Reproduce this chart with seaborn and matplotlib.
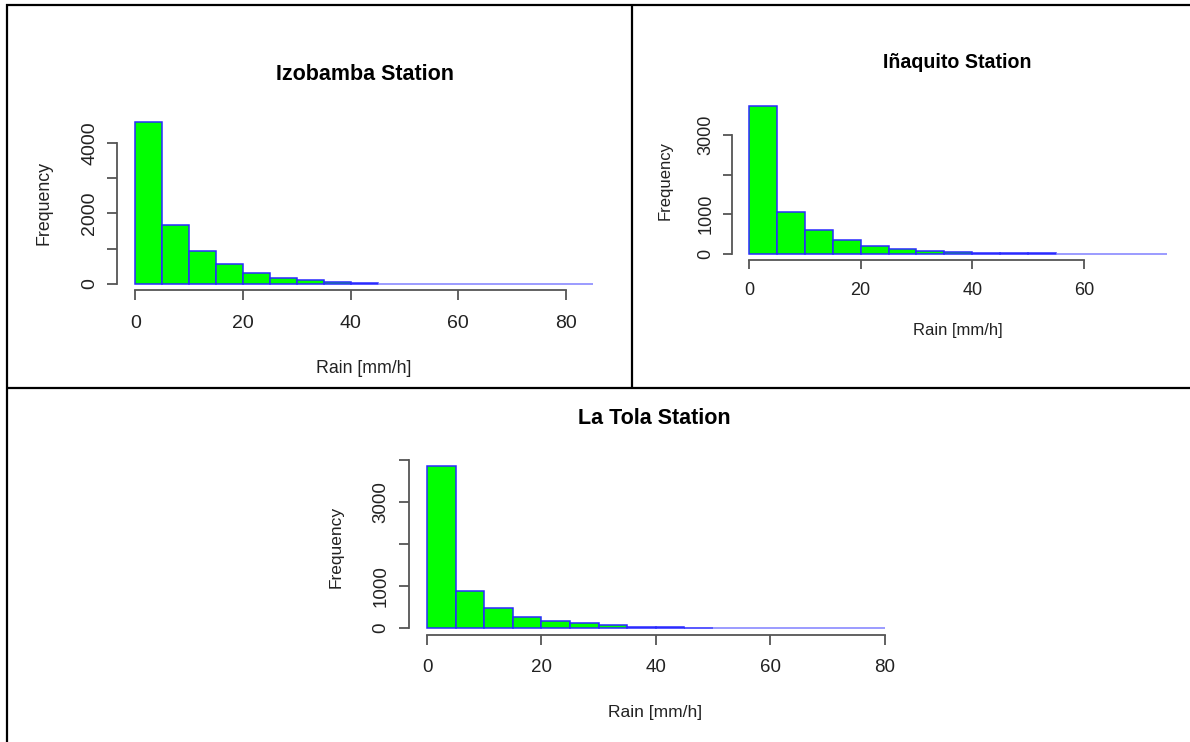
import numpy as np
import pandas as pd
import matplotlib
matplotlib.use("Agg")
import matplotlib.pyplot as plt
from matplotlib.lines import Line2D
import seaborn as sns

# Hourly rain histograms (5 mm/h bins starting at 0)
bin_width = 5
izobamba_counts = [4590, 1660, 930, 550, 300, 155, 95, 55, 30, 4, 2, 1, 1, 0, 0, 0, 1]
inaquito_counts = [3735, 1045, 590, 355, 200, 120, 70, 45, 20, 12, 8, 0, 0, 0, 1]
latola_counts = [3855, 880, 485, 270, 165, 110, 65, 25, 14, 8, 0, 0, 0, 0, 0, 1]

titles = ["Izobamba Station", "Iñaquito Station", "La Tola Station"]
x_label = "Rain [mm/h]"
y_label = "Frequency"

izobamba_xticks = [0, 20, 40, 60, 80]
inaquito_xticks = [0, 20, 40, 60]
latola_xticks = [0, 20, 40, 60, 80]
izobamba_yticks = [0, 1000, 2000, 3000, 4000]
inaquito_yticks = [0, 1000, 2000, 3000]
latola_yticks = [0, 1000, 2000, 3000, 4000]
izobamba_ylabels = ["0", "", "2000", "", "4000"]
inaquito_ylabels = ["0", "1000", "", "3000"]
latola_ylabels = ["0", "1000", "", "3000", ""]

sns.set_style("white")
plt.rcParams["font.family"] = ["Liberation Sans", "DejaVu Sans"]

W, H = 1190, 742
fig = plt.figure(figsize=(W / 100, H / 100), dpi=100)
fig.patch.set_facecolor("white")


def fx(px):
    return px / W


def fy(py):
    return 1 - py / H


def draw_panel(rect, counts, title, xticks, yticks, ylabels, style):
    left, top, right, bottom = rect
    ax = fig.add_axes([fx(left), fy(bottom), fx(right - left), (bottom - top) / H])
    n = len(counts)
    x_hi = n * bin_width
    centers = np.arange(n) * bin_width + bin_width / 2
    df = pd.DataFrame({"rain": centers, "freq": counts})
    sns.histplot(data=df, x="rain", weights="freq", binwidth=bin_width,
                 binrange=(0, x_hi), ax=ax,
                 color="#00ff00", edgecolor="#2a2aff", linewidth=1.1, alpha=1)
    # near-empty bins collapse to a single faint outline
    for p in ax.patches:
        if p.get_height() < 0.002 * max(counts):
            p.set_edgecolor("#8080ff")

    # R-style axis limits: 4% padding around data range
    x0, x1 = 0, x_hi
    y0, y1 = 0, max(counts)
    ax.set_xlim(x0 - 0.04 * (x1 - x0), x1 + 0.04 * (x1 - x0))
    ax.set_ylim(y0 - 0.04 * (y1 - y0), y1 + 0.04 * (y1 - y0))

    for s in ["top", "right"]:
        ax.spines[s].set_visible(False)
    for s in ["left", "bottom"]:
        ax.spines[s].set_color("#555555")
        ax.spines[s].set_linewidth(1.3)
    ax.spines["bottom"].set_bounds(xticks[0], xticks[-1])
    ax.spines["left"].set_bounds(yticks[0], yticks[-1])

    ax.set_xticks(xticks)
    ax.set_xticklabels([str(t) for t in xticks])
    ax.set_yticks(yticks)
    ax.set_yticklabels(ylabels, rotation=90, va="center")
    ax.tick_params(axis="both", direction="out", length=style["tick_len"], width=1.3,
                   color="#555555", labelcolor="#222222", labelsize=style["tick_fs"],
                   bottom=True, left=True)
    ax.tick_params(axis="x", pad=style["xpad"])
    ax.tick_params(axis="y", pad=style["ypad"])

    ax.set_xlabel(x_label, fontsize=style["lab_fs"], color="#222222")
    ax.set_ylabel(y_label, fontsize=style["lab_fs"], color="#222222")
    ax.xaxis.label.set_va("baseline")
    ax.xaxis.set_label_coords(fx(style["xlab"][0]), fy(style["xlab"][1]), transform=fig.transFigure)
    ax.yaxis.label.set_va("center")
    ax.yaxis.set_label_coords(fx(style["ylab"][0]), fy(style["ylab"][1]), transform=fig.transFigure)

    fig.text(fx(style["title"][0]), fy(style["title"][1]), title, ha="center", va="baseline",
             fontsize=style["title_fs"], fontweight="bold", color="#000000")
    ax.grid(False)
    return ax


draw_panel((117.2, 115.8, 611.1, 290.2), izobamba_counts, titles[0],
           izobamba_xticks, izobamba_yticks, izobamba_ylabels,
           dict(tick_len=7.2, tick_fs=14, lab_fs=12.8, xpad=11, ypad=6.5, title_fs=15.5,
                xlab=(364, 373), ylab=(44.5, 203), title=(364.5, 80)))
draw_panel((732.3, 100.1, 1184.2, 259.6), inaquito_counts, titles[1],
           inaquito_xticks, inaquito_yticks, inaquito_ylabels,
           dict(tick_len=6.7, tick_fs=13, lab_fs=12, xpad=9.5, ypad=6, title_fs=14.1,
                xlab=(958, 335), ylab=(665, 180), title=(957, 68)))
draw_panel((408.7, 459.5, 902.9, 634.5), latola_counts, titles[2],
           latola_xticks, latola_yticks, latola_ylabels,
           dict(tick_len=7.2, tick_fs=13.5, lab_fs=12.5, xpad=10.8, ypad=6.5, title_fs=15.5,
                xlab=(655, 717), ylab=(336, 547), title=(654, 424.5)))

# Table frame around the three panels
frame = [((6, 1190), (5, 5)), ((6.8, 6.8), (4, 742)), ((632, 632), (4, 388)),
         ((6, 1190), (388, 388))]
for xs, ys in frame:
    fig.add_artist(Line2D([fx(v) for v in xs], [fy(v) for v in ys],
                          transform=fig.transFigure, color="black", linewidth=1.6,
                          solid_capstyle="butt"))

fig.savefig("out.png", dpi=100, facecolor="white")
